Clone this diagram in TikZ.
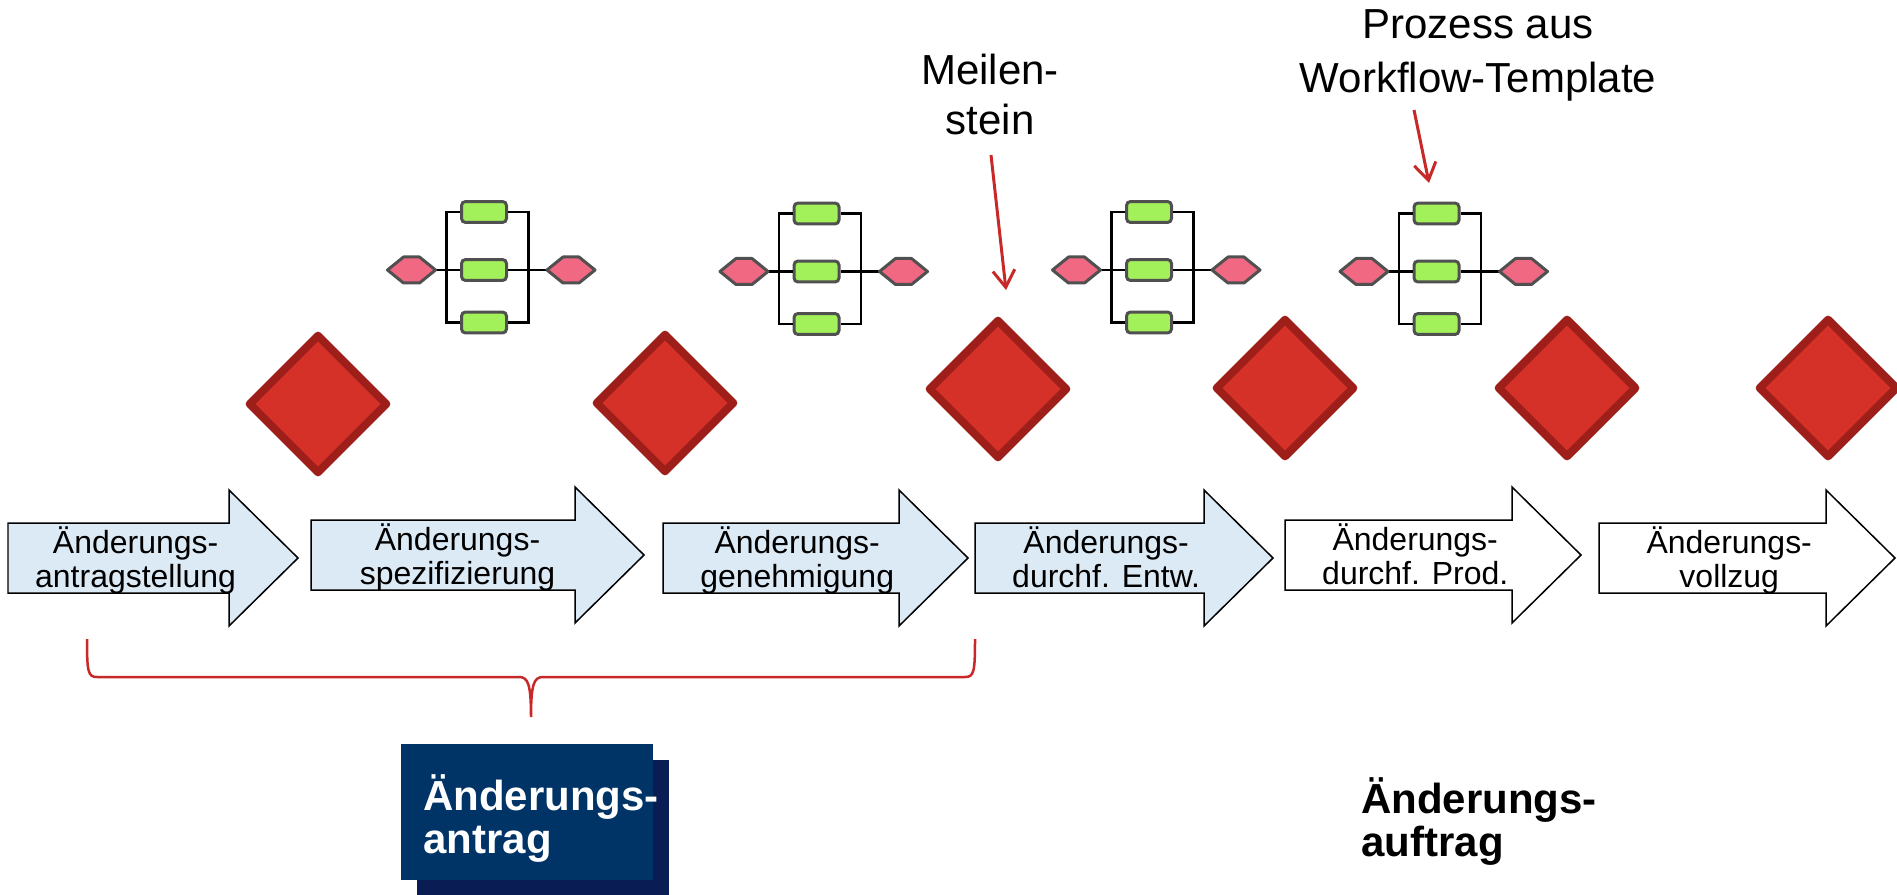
\documentclass[tikz,border=0pt]{standalone}
\usepackage{fontspec}
\setmainfont{Liberation Sans}
\usetikzlibrary{shapes.geometric,arrows.meta}
\definecolor{arrowblue}{RGB}{220,234,246}
\definecolor{taskgreen}{RGB}{162,240,90}
\definecolor{eventpink}{RGB}{240,104,130}
\definecolor{shapegray}{RGB}{80,80,80}
\definecolor{msfill}{RGB}{213,49,40}
\definecolor{msborder}{RGB}{158,31,26}
\definecolor{annotred}{RGB}{200,40,40}
\definecolor{boxnavy}{RGB}{0,51,102}
\definecolor{shadownavy}{RGB}{10,28,84}
\newcommand{\stk}[3]{\begin{tabular}[t]{@{}#1@{}}#2\\#3\end{tabular}}
\begin{document}
\begin{tikzpicture}[x=0.02cm,y=-0.02cm,
  flowarrow/.style={draw=black,line width=0.03cm,line join=miter},
  arrowtext/.style={anchor=base,inner sep=0pt,font=\fontsize{18.2pt}{19.9pt}\selectfont},
  milestone/.style={diamond,draw=msborder,fill=msfill,line width=0.16cm,line join=round,
    minimum width=2.8cm,minimum height=2.8cm,inner sep=0pt},
  task/.style={rectangle,rounded corners=0.08cm,draw=shapegray,fill=taskgreen,line width=0.06cm,
    minimum width=0.9cm,minimum height=0.42cm,inner sep=0pt},
  event/.style={draw=shapegray,fill=eventpink,line width=0.06cm,line join=round},
  conn/.style={draw=black,line width=0.05cm},
  annot/.style={draw=annotred,line width=0.06cm,-{Straight Barb[length=0.34cm,width=0.44cm]}},
  bracestyle/.style={draw=annotred,line width=0.05cm},
  bigtext/.style={anchor=base,inner sep=0pt},
]
\useasboundingbox (0,0) rectangle (1897,895);

% process arrows: left / tip / mid / fill / line1 / line2
\foreach \lft/\tip/\mid/\col/\la/\lb [count=\i] in {
  8/298/558/arrowblue/{Änderungs-}/{antragstellung},
  311/644/555/arrowblue/{Änderungs-}/{spezifizierung},
  663/968/558/arrowblue/{Änderungs-}/{genehmigung},
  975/1273/558/arrowblue/{Änderungs-}/{durchf. Entw.},
  1285/1581/555/white/{Änderungs-}/{durchf. Prod.},
  1599/1895/558/white/{Änderungs-}/{vollzug}}{
  \draw[flowarrow,fill=\col] (\lft,\mid-35) -- (\tip-69,\mid-35) -- (\tip-69,\mid-68)
     -- (\tip,\mid) -- (\tip-69,\mid+68) -- (\tip-69,\mid+35) -- (\lft,\mid+35) -- cycle;
  \node[arrowtext] (p\i) at ({\lft+0.44*(\tip-\lft)},\mid-5) {\stk{c}{\la}{\lb}};
}

% milestones
\foreach \x/\y [count=\i] in {318/404,665/403,998/389,1285/388,1567/388,1828/388}{
  \node[milestone] (m\i) at (\x,\y) {};
}

% workflow templates
\foreach \cx/\dy [count=\i] in {484/0,816.5/1.5,1149/0,1436.5/1.5}{
  \node[task] (t\i-a) at (\cx,212+\dy) {};
  \node[task] (t\i-b) at (\cx,270+\dy) {};
  \node[task] (t\i-c) at (\cx,322.5+\dy) {};
  \coordinate (e\i-l) at (\cx-72.5,270+\dy);
  \coordinate (e\i-r) at (\cx+87,270+\dy);
  \draw[conn] (t\i-a.west) -- ++(-13.5,0) |- (t\i-c.west);
  \draw[conn] (t\i-a.east) -- ++(20.5,0) |- (t\i-c.east);
  \draw[conn] (e\i-l) ++(24,0) -- (t\i-b.west);
  \draw[conn] (e\i-r) ++(-24,0) -- (t\i-b.east);
  \draw[event] (e\i-l) +(-24,0) -- +(-8,-13) -- +(8,-13) -- +(24,0) -- +(8,13) -- +(-8,13) -- cycle;
  \draw[event] (e\i-r) +(-24,0) -- +(-8,-13) -- +(8,-13) -- +(24,0) -- +(8,13) -- +(-8,13) -- cycle;
}

% annotations
\node[bigtext,font=\fontsize{23.9pt}{28.4pt}\selectfont] (meilen) at (990,85) {\stk{c}{Meilen-}{stein}};
\node[bigtext,font=\fontsize{23.9pt}{30.2pt}\selectfont] (prozess) at (1478,39) {\stk{c}{Prozess aus}{Workflow-Template}};
\coordinate (meilen-from) at (991,155);
\coordinate (meilen-to) at (1006,290);
\coordinate (prozess-from) at (1414,110);
\coordinate (prozess-to) at (1429,183);
\draw[annot] (meilen-from) -- (meilen-to);
\draw[annot] (prozess-from) -- (prozess-to);

% brace
\coordinate (brace-l) at (87,639);
\coordinate (brace-r) at (975,639);
\coordinate (brace-tip) at (531,717);
\draw[bracestyle] (brace-l) .. controls (87,672) and (88,677) .. (97,677) -- (519,677)
  .. controls (528,677) and (531,684) .. (brace-tip)
  .. controls (531,684) and (534,677) .. (543,677) -- (965,677)
  .. controls (974,677) and (975,672) .. (brace-r);

% Änderungsantrag box
\fill[shadownavy] (417,760) rectangle (669,897);
\fill[boxnavy] (401,744) rectangle (653,880);
\node[bigtext,anchor=base west,text=white,font=\fontsize{23.9pt}{24.5pt}\selectfont\bfseries] (antrag) at (423,810) {\stk{l}{Änderungs-}{antrag}};

% Änderungsauftrag
\node[bigtext,anchor=base west,font=\fontsize{23.9pt}{24.2pt}\selectfont\bfseries] (auftrag) at (1361,813) {\stk{l}{Änderungs-}{auftrag}};
\end{tikzpicture}
\end{document}
